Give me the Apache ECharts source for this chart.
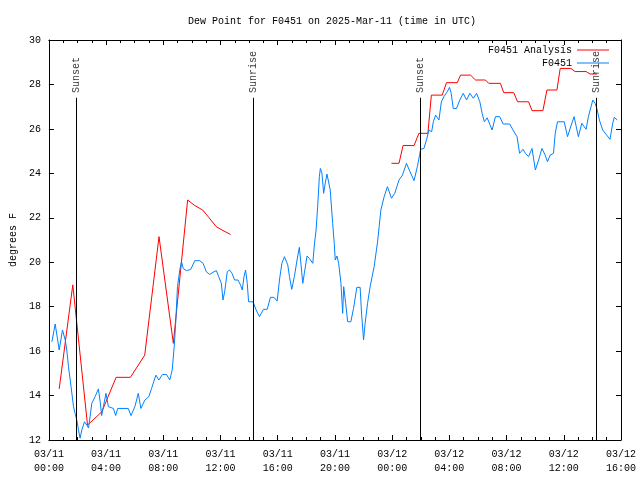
<!DOCTYPE html>
<html>
<head>
<meta charset="utf-8">
<script src="https://cdn.jsdelivr.net/npm/echarts@6/dist/echarts.min.js"></script>
<style>html,body{margin:0;padding:0;background:#fff;}#c{width:640px;height:480px;}</style>
</head>
<body>
<div id="c"></div>
<script>
// hours since 2025-03-11 00:00 UTC
var xTickLabels = ['03/11\n00:00','03/11\n04:00','03/11\n08:00','03/11\n12:00','03/11\n16:00','03/11\n20:00',
                   '03/12\n00:00','03/12\n04:00','03/12\n08:00','03/12\n12:00','03/12\n16:00'];
var yTicks = [12,14,16,18,20,22,24,26,28,30];

var obsHours = [0.21,0.44,0.72,0.95,1.14,1.25,1.37,1.55,1.72,1.83,1.95,2.07,2.18,2.30,2.49,2.65,2.77,2.88,3.00,3.23,
  3.46,3.57,3.69,3.81,3.99,4.16,4.51,4.67,4.81,5.55,5.74,6.01,6.25,6.43,6.71,6.99,7.18,7.48,7.69,7.94,
  8.22,8.45,8.62,8.76,8.87,8.99,9.15,9.27,9.39,9.62,9.92,10.20,10.54,10.78,11.01,11.24,11.48,11.71,11.87,12.06,
  12.17,12.29,12.47,12.63,12.80,12.98,13.22,13.40,13.52,13.64,13.75,13.87,13.96,14.27,14.49,14.72,15.00,15.26,15.49,15.73,
  15.96,16.12,16.29,16.47,16.70,16.82,16.98,17.16,17.35,17.51,17.63,17.75,17.86,18.05,18.21,18.45,18.56,18.68,18.79,18.91,
  18.98,19.09,19.21,19.32,19.44,19.53,19.67,19.84,19.95,20.02,20.14,20.26,20.42,20.54,20.61,20.75,20.89,21.11,21.30,21.53,
  21.76,21.86,22.00,22.11,22.28,22.46,22.74,22.98,23.09,23.21,23.44,23.67,23.95,24.18,24.48,24.72,25.00,25.25,25.53,25.76,
  25.92,25.99,26.22,26.41,26.57,26.76,26.88,27.04,27.27,27.44,27.62,27.85,28.01,28.13,28.27,28.50,28.73,28.97,29.20,29.43,
  29.67,29.90,30.13,30.29,30.45,30.64,30.99,31.22,31.52,31.76,32.22,32.45,32.73,32.91,33.15,33.31,33.54,33.78,34.01,34.24,
  34.47,34.70,34.86,35.05,35.28,35.40,35.56,36.03,36.26,36.50,36.72,37.02,37.26,37.56,37.72,38.03,38.19,38.31,38.49,38.72,
  39.00,39.23,39.42,39.53,39.74];
var obsValues = [16.42,17.22,16.05,16.95,16.5,16.05,15.3,14.4,13.5,13.2,12.9,12.45,12.08,12.45,12.82,12.67,12.54,13.05,13.65,13.95,
  14.3,13.8,13.1,13.5,14.1,13.5,13.42,13.1,13.42,13.42,13.1,13.5,14.1,13.42,13.8,13.95,14.32,14.92,14.7,14.95,
  14.95,14.7,15.15,16.2,17.32,18.9,19.65,20.02,19.72,19.62,19.68,20.07,20.07,19.95,19.57,19.45,19.55,19.62,19.35,19.05,
  18.3,18.67,19.57,19.65,19.5,19.2,19.2,18.97,18.75,19.35,19.65,19.05,18.22,18.22,17.85,17.55,17.88,17.88,18.42,18.42,
  18.25,19.2,19.95,20.25,19.88,19.35,18.78,19.35,20.1,20.67,19.88,19.05,19.5,20.28,20.17,19.95,20.77,21.45,22.5,23.85,
  24.22,24.0,23.1,23.55,23.97,23.7,23.25,21.75,20.85,20.1,20.28,19.95,19.05,17.7,18.9,18.15,17.32,17.32,17.92,18.87,
  18.87,17.7,16.5,17.25,18.15,18.9,19.8,20.92,21.6,22.35,22.95,23.4,22.88,23.1,23.7,23.92,24.45,24.07,23.67,24.3,
  24.82,25.08,25.12,25.53,25.95,25.87,26.32,26.62,26.4,27.22,27.45,27.67,27.87,27.6,26.92,26.92,27.3,27.6,27.3,27.6,
  27.38,27.6,27.22,26.7,26.32,26.5,25.95,26.55,26.55,26.22,26.22,25.95,25.65,24.9,25.08,24.9,24.75,25.12,24.15,24.6,
  25.12,24.82,24.52,24.82,24.9,25.8,26.32,26.32,25.65,26.13,26.55,25.65,26.25,25.98,26.55,27.3,27.15,26.92,26.4,25.95,
  25.72,25.53,26.25,26.52,26.4];

var anaHours1 = [0.72,1.67,2.70,3.70,4.70,5.70,6.70,7.70,8.70,9.70,10.20,10.75,11.20,11.70,12.10,12.70];
var anaValues1 = [14.3,18.98,12.67,13.27,14.82,14.82,15.82,21.15,16.35,22.8,22.55,22.35,22.0,21.6,21.45,21.25];

var anaHours2 = [23.95,24.48,24.76,25.53,25.87,26.50,26.74,27.50,27.80,28.55,28.78,29.48,29.83,30.52,30.75,31.57,
  31.80,32.50,32.77,33.54,33.78,34.54,34.82,35.52,35.75,36.49,36.79,37.56,37.84,38.33];
var anaValues2 = [24.45,24.45,25.25,25.25,25.8,25.8,27.52,27.52,28.08,28.08,28.42,28.42,28.2,28.2,28.05,28.05,
  27.63,27.63,27.22,27.22,26.82,26.82,27.75,27.75,28.72,28.72,28.58,28.58,28.47,28.47];

var sunEvents = ['Sunset','Sunrise','Sunset','Sunrise'];
var sunHours = [1.93,14.29,25.94,38.28];
var sunLineTop = 27.4;
var sunLabelBase = 27.62;

function pairs(xs, ys){ return xs.map(function(x,i){ return [x, ys[i]]; }); }

var FONT = "'Liberation Mono','DejaVu Sans Mono',monospace";
var chart = echarts.init(document.getElementById('c'), null, {renderer:'canvas'});
var axisBase = {
  type:'value', axisLine:{show:true, onZero:false, lineStyle:{color:'#000', width:1}},
  splitLine:{show:false}
};
var option = {
  animation:false,
  backgroundColor:'#fff',
  title:{text:'Dew Point for F0451 on 2025-Mar-11 (time in UTC)', left:327, textAlign:'center', top:11,
    textStyle:{fontFamily:FONT, fontSize:10, fontWeight:'normal', color:'#000'}},
  grid:{left:47, right:19, top:40, bottom:40, containLabel:false},
  legend:[
    {data:['F0451 Analysis'], right:31, top:45, padding:0, orient:'vertical', align:'right', icon:'rect', itemWidth:32, itemHeight:1,
      textStyle:{fontFamily:FONT, fontSize:10, color:'#000'}, selectedMode:false},
    {data:['F0451'], right:31, top:58, padding:0, orient:'vertical', align:'right', icon:'rect', itemWidth:32, itemHeight:1,
      textStyle:{fontFamily:FONT, fontSize:10, color:'#000'}, selectedMode:false}
  ],
  xAxis:[
    Object.assign({}, axisBase, {position:'bottom', min:0, max:40, interval:4,
      axisTick:{show:true, inside:true, length:5, lineStyle:{color:'#000'}},
      minorTick:{show:true, splitNumber:4, length:3, lineStyle:{color:'#000'}},
      axisLabel:{show:true, margin:7, fontFamily:FONT, fontSize:10, color:'#000', lineHeight:14,
        showMinLabel:true, showMaxLabel:true,
        formatter:function(v){ return xTickLabels[Math.round(v/4)]; }}}),
    Object.assign({}, axisBase, {position:'top', min:0, max:40, interval:4,
      axisTick:{show:true, inside:true, length:5, lineStyle:{color:'#000'}},
      minorTick:{show:true, splitNumber:4, length:3, lineStyle:{color:'#000'}},
      axisLabel:{show:false}})
  ],
  yAxis:[
    Object.assign({}, axisBase, {position:'left', min:yTicks[0], max:yTicks[yTicks.length-1], interval:2,
      name:'degrees F', nameLocation:'middle', nameGap:30, nameRotate:90,
      nameTextStyle:{fontFamily:FONT, fontSize:10, color:'#000'},
      axisTick:{show:true, inside:true, length:5, lineStyle:{color:'#000'}},
      axisLabel:{show:true, margin:8, fontFamily:FONT, fontSize:10, color:'#000'}}),
    Object.assign({}, axisBase, {position:'right', min:yTicks[0], max:yTicks[yTicks.length-1], interval:2,
      axisTick:{show:true, inside:true, length:5, lineStyle:{color:'#000'}},
      axisLabel:{show:false}})
  ],
  series:[
    {name:'F0451 Analysis', type:'line', data:pairs(anaHours1, anaValues1), symbol:'none',
      lineStyle:{color:'#ff0000', width:1}, itemStyle:{color:'#ff0000'}, z:3},
    {name:'F0451 Analysis', type:'line', data:pairs(anaHours2, anaValues2), symbol:'none',
      lineStyle:{color:'#ff0000', width:1}, itemStyle:{color:'#ff0000'}, z:3},
    {name:'F0451', type:'line', data:pairs(obsHours, obsValues), symbol:'none',
      lineStyle:{color:'#0080ff', width:1}, itemStyle:{color:'#0080ff'}, z:4},
    {name:'sun', type:'scatter', symbolSize:1, itemStyle:{color:'rgba(0,0,0,0)'}, silent:true, z:5,
      data:sunHours.map(function(h,i){ return {value:[h, sunLabelBase], name:sunEvents[i]}; }),
      label:{show:true, position:'inside', rotate:90, align:'left', verticalAlign:'middle',
        fontFamily:FONT, fontSize:10, color:'#000', formatter:function(p){ return p.name; }},
      markLine:{silent:true, symbol:['none','none'], label:{show:false},
        lineStyle:{color:'#000', width:1, type:'solid'},
        emphasis:{disabled:true},
        data:sunHours.map(function(h){ return [{coord:[h, yTicks[0]]},{coord:[h, sunLineTop]}]; })}}
  ]
};
chart.setOption(option);
</script>
</body>
</html>
